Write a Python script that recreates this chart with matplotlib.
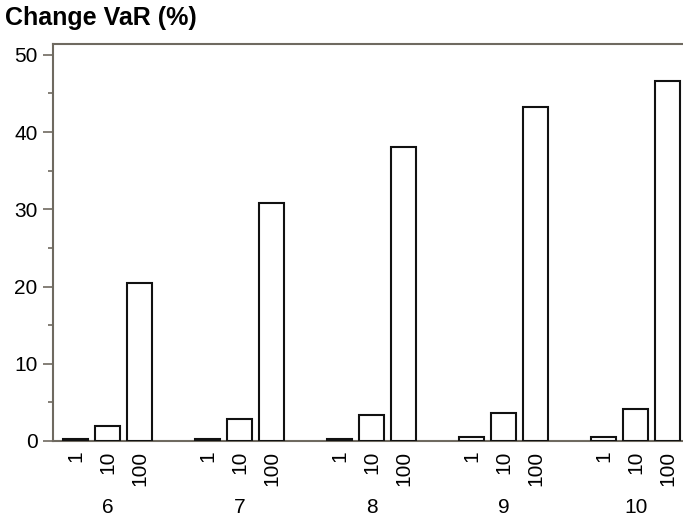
import matplotlib.pyplot as plt
from matplotlib.ticker import MultipleLocator

plt.rcParams['font.family'] = ['Liberation Sans', 'DejaVu Sans']

groups = ['6', '7', '8', '9', '10']
sub_labels = ['1', '10', '100']
vals_1 = [0.2, 0.2, 0.2, 0.5, 0.5]
vals_10 = [2.0, 2.8, 3.4, 3.6, 4.1]
vals_100 = [20.5, 30.8, 38.0, 43.2, 46.6]

fig = plt.figure(figsize=(6.83, 5.25), dpi=100)
ax = fig.add_axes([53 / 683, 1 - 441 / 525, 1 - 53 / 683, (441 - 44) / 525])

group_step = 4.125
width = 0.78
xs, heights, labels, centers = [], [], [], []
for g in range(len(groups)):
    base = g * group_step
    for j, series in enumerate([vals_1, vals_10, vals_100]):
        xs.append(base + j)
        heights.append(series[g])
        labels.append(sub_labels[j])
    centers.append(base + 1)

ax.bar(xs, heights, width=width, color='white', edgecolor='#111111', linewidth=1.5, zorder=3)

ax.set_xlim(-0.703, 18.98)
ax.set_ylim(0, 51.4)
ax.set_xticks(xs)
ax.set_xticklabels(labels, rotation=90, fontsize=15)
ax.tick_params(axis='x', length=0, pad=7)
ax.yaxis.set_major_locator(MultipleLocator(10))
ax.yaxis.set_minor_locator(MultipleLocator(5))
ax.tick_params(axis='y', which='major', length=7, width=1.2, color='#6f6a60', labelsize=15, pad=4)
ax.tick_params(axis='y', which='minor', length=3.5, width=1.2, color='#6f6a60')

for s in ['left', 'top', 'bottom']:
    ax.spines[s].set_color('#6f6a60')
    ax.spines[s].set_linewidth(1.5)
ax.spines['right'].set_visible(False)

for c, g in zip(centers, groups):
    ax.text(c, -8.6, g, ha='center', va='center', fontsize=15, clip_on=False)

fig.text(5 / 683, 1 - 18 / 525, 'Change VaR (%)', fontsize=18, fontweight='bold', va='center', ha='left')

fig.savefig('out.png', dpi=100)
